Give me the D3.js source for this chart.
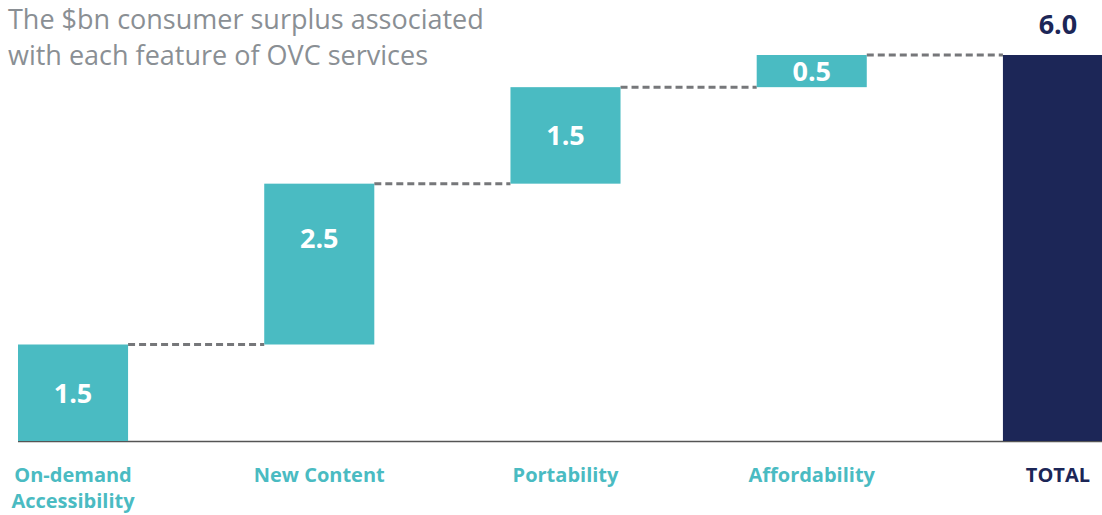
<!DOCTYPE html>
<html>
  <head>
    <meta charset="utf-8" />
    <script src="https://d3js.org/d3.v7.min.js"></script>
    <style>
      body { margin: 0; background: #fff; }
      svg { display: block; font-family: "Open Sans", sans-serif; }
      .connector { stroke: #76777a; stroke-width: 3px; stroke-dasharray: 7 4; fill: none; }
    </style>
  </head>
  <body>
    <svg id="chart" width="1102" height="515"></svg>
  <script>

  var categories = ["On-demand|Accessibility", "New Content", "Portability", "Affordability", "TOTAL"];
  var values = [1.5, 2.5, 1.5, 0.5];
  var totalValue = 6.0;
  var valueLabels = ["1.5", "2.5", "1.5", "0.5", "6.0"];
  var titleLines = ["The $bn consumer surplus associated", "with each feature of OVC services"];

  var teal = "#4abbc2";
  var navy = "#1c2657";

  var svg = d3.select("#chart");

  var x = d3.scaleBand()
    .domain(categories)
    .range([18, 1113])
    .paddingInner(0.553)
    .paddingOuter(0);

  var y = d3.scaleLinear()
    .domain([0, 6])
    .range([441, 55]);

  // build waterfall steps
  var steps = [];
  var cum = 0;
  values.forEach(function(v, i) {
    steps.push({ cat: categories[i], start: cum, end: cum + v, label: valueLabels[i], total: false });
    cum += v;
  });
  steps.push({ cat: categories[4], start: 0, end: totalValue, label: valueLabels[4], total: true });

  // title
  svg.append("text")
    .attr("x", 8)
    .attr("y", 29)
    .attr("fill", "#8a8f94")
    .attr("font-size", 27)
    .selectAll("tspan")
    .data(titleLines)
    .enter().append("tspan")
    .attr("x", 8)
    .attr("dy", function(d, i) { return i ? 36 : 0; })
    .text(function(d) { return d; });

  // connectors
  svg.selectAll(".connector")
    .data(steps.slice(0, steps.length - 1))
    .enter().append("line")
    .attr("class", "connector")
    .attr("x1", function(d) { return x(d.cat) + x.bandwidth(); })
    .attr("x2", function(d, i) { return x(steps[i + 1].cat); })
    .attr("y1", function(d) { return y(d.end); })
    .attr("y2", function(d) { return y(d.end); });

  // axis line
  svg.append("line")
    .attr("x1", 18)
    .attr("x2", 1102)
    .attr("y1", y(0) + 0.5)
    .attr("y2", y(0) + 0.5)
    .attr("stroke", "#555")
    .attr("stroke-width", 1.5);

  // bars
  svg.selectAll(".bar")
    .data(steps)
    .enter().append("rect")
    .attr("class", "bar")
    .attr("x", function(d) { return x(d.cat); })
    .attr("width", x.bandwidth())
    .attr("y", function(d) { return y(d.end); })
    .attr("height", function(d) { return y(d.start) - y(d.end); })
    .attr("fill", function(d) { return d.total ? navy : teal; });

  // value labels
  svg.selectAll(".val")
    .data(steps)
    .enter().append("text")
    .attr("class", "val")
    .attr("x", function(d) { return x(d.cat) + x.bandwidth() / 2; })
    .attr("y", function(d) {
      if (d.total) return y(d.end) - 21;
      var h = y(d.start) - y(d.end);
      return y(d.end) + Math.min(h / 2, 54) + 10;
    })
    .attr("text-anchor", "middle")
    .attr("font-size", 27)
    .attr("font-weight", 700)
    .attr("fill", function(d) { return d.total ? navy : "#fff"; })
    .text(function(d) { return d.label; });

  // category labels
  svg.selectAll(".cat")
    .data(categories)
    .enter().append("text")
    .attr("class", "cat")
    .attr("x", function(d) { return x(d) + x.bandwidth() / 2; })
    .attr("y", 482)
    .attr("text-anchor", "middle")
    .attr("font-size", 20)
    .attr("font-weight", 700)
    .attr("fill", function(d) { return d === "TOTAL" ? navy : teal; })
    .each(function(d) {
      var t = d3.select(this);
      d.split("|").forEach(function(line, i) {
        t.append("tspan")
          .attr("x", x(d) + x.bandwidth() / 2)
          .attr("dy", i ? 26 : 0)
          .text(line);
      });
    });

  </script>
  </body>
</html>
